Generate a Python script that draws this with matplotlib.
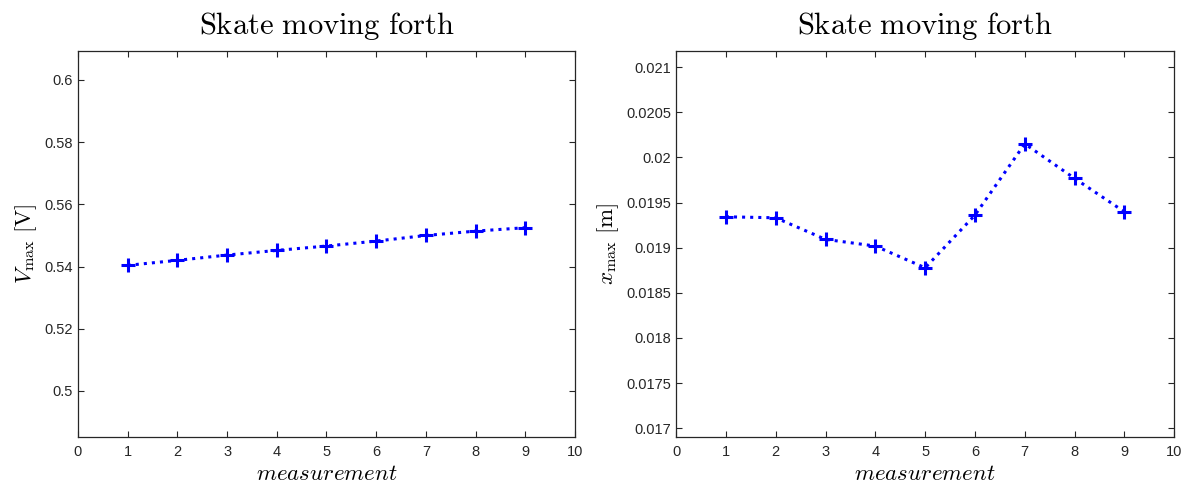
import numpy as np
import matplotlib
matplotlib.use("Agg")
import matplotlib.pyplot as plt
from matplotlib.ticker import FuncFormatter

plt.rcParams['mathtext.fontset'] = 'cm'
plt.rcParams['font.family'] = ['Liberation Sans', 'DejaVu Sans']

measurement = [1, 2, 3, 4, 5, 6, 7, 8, 9]
v_max = [0.5404, 0.5420, 0.5437, 0.5452, 0.5466, 0.5482, 0.5500, 0.5514, 0.5525]
x_max = [0.019342, 0.019331, 0.019092, 0.019018, 0.018777,
         0.019361, 0.020150, 0.019767, 0.019397]

v_ticks = [0.5, 0.52, 0.54, 0.56, 0.58, 0.6]
x_ticks = [0.017, 0.0175, 0.018, 0.0185, 0.019, 0.0195, 0.02, 0.0205, 0.021]

fig = plt.figure(figsize=(11.89, 4.86), dpi=100)
ax1 = fig.add_axes([0.0656, 0.1009, 0.418, 0.794])
ax2 = fig.add_axes([0.5686, 0.1009, 0.419, 0.794])

def style(ax):
    for s in ax.spines.values():
        s.set_color('#262626')
        s.set_linewidth(0.9)
    ax.tick_params(direction='in', top=True, right=True, length=4,
                   width=0.8, color='#262626', labelsize=10.5, labelcolor='#262626')
    ax.tick_params(axis='x', pad=6)
    ax.set_xlim(0, 10)
    ax.set_xticks(range(11))
    ax.set_xlabel(r'$measurement$', fontsize=16.5, labelpad=2)

g = lambda v, p: '%g' % v

ax1.plot(measurement, v_max, ':', color='#0000ff', lw=2.2,
         marker='+', ms=10, mew=2.2)
ax1.set_ylim(0.4852, 0.6093)
ax1.set_yticks(v_ticks)
ax1.yaxis.set_major_formatter(FuncFormatter(g))
ax1.set_ylabel(r'$V_{\max}\ [\mathrm{V}]$', fontsize=16.5, labelpad=4)
ax1.set_title(r'$\mathrm{Skate\ moving\ forth}$', fontsize=22, pad=12)
style(ax1)

ax2.plot(measurement, x_max, ':', color='#0000ff', lw=2.2,
         marker='+', ms=10, mew=2.2)
ax2.set_ylim(0.016904, 0.021177)
ax2.set_yticks(x_ticks)
ax2.yaxis.set_major_formatter(FuncFormatter(g))
ax2.set_ylabel(r'$x_{\max}\ [\mathrm{m}]$', fontsize=16.5, labelpad=4)
ax2.set_title(r'$\mathrm{Skate\ moving\ forth}$', fontsize=22, pad=12)
style(ax2)

fig.savefig('out.png', dpi=100)
